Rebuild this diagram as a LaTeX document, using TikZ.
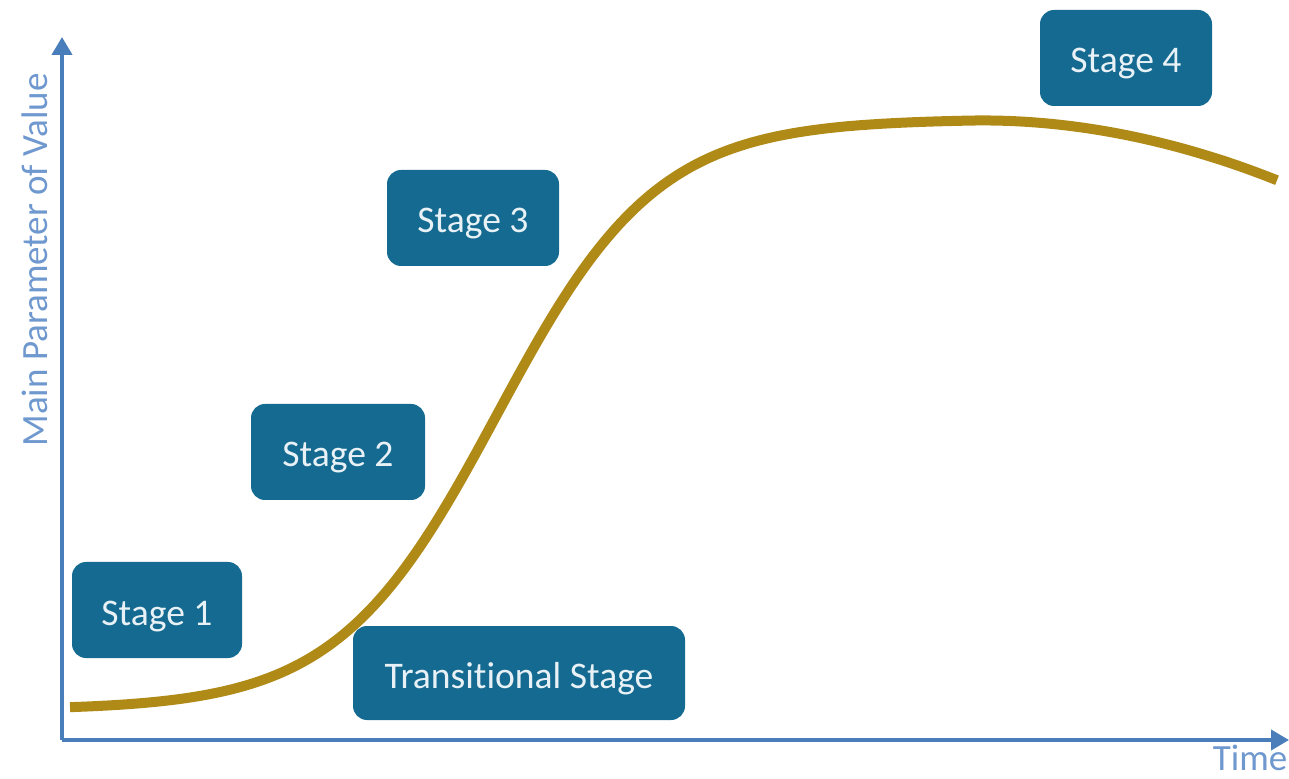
\documentclass[tikz,border=0pt]{standalone}
\usepackage{fontspec}
\setmainfont{Carlito}[Ligatures={NoCommon}]
\usetikzlibrary{arrows.meta}
\definecolor{boxblue}{HTML}{146A90}
\definecolor{axisblue}{HTML}{4A7EBB}
\definecolor{labelblue}{HTML}{6F98CF}
\definecolor{curvegold}{HTML}{B08A17}
\definecolor{boxtext}{HTML}{E8F1F6}
\begin{document}
\begin{tikzpicture}[x=0.5pt,y=-0.5pt,
  stagebox/.style={fill=boxblue, draw=none, rounded corners=7pt, text=boxtext,
    font=\fontsize{18.8}{20}\selectfont, inner sep=0pt, minimum height=48pt,
    text height=19pt, text depth=4pt},
  axisline/.style={draw=axisblue, line width=2pt, -{Triangle[length=9pt,width=10pt]}},
  axislabel/.style={text=labelblue, font=\fontsize{18.5}{20}\selectfont, inner sep=0pt},
  growth/.style={draw=curvegold, line width=5pt}]
\useasboundingbox (0,0) rectangle (1289,779);

% axes
\coordinate (origin) at (62,740);
\coordinate (ytip) at (62,37);
\coordinate (xtip) at (1289,740);
\draw[axisline] (origin) -- (ytip);
\draw[axisline] (origin) -- (xtip);
\node[axislabel, rotate=90] (ylab) at (35,260) {Main Parameter of Value};
\node[axislabel] (xlab) at (1250,758) {Time};

% growth curve: logistic rise, then a gentle decline
\draw[growth] plot[domain=70:1277, samples=240, smooth]
  (\x, {710 - 591/(1+exp(-(\x-497)/80)) + 0.065*(max(0,\x-970)/10)^2});

% stage labels
\node[stagebox, minimum width=85pt] (s1) at (157,610) {Stage 1};
\node[stagebox, minimum width=87pt] (s2) at (338,452) {Stage 2};
\node[stagebox, minimum width=86pt] (s3) at (473,218) {Stage 3};
\node[stagebox, minimum width=86pt] (s4) at (1126,58) {Stage 4};
\node[stagebox, minimum width=166pt, minimum height=47pt] (tr) at (519,673) {Transitional Stage};
\end{tikzpicture}
\end{document}
